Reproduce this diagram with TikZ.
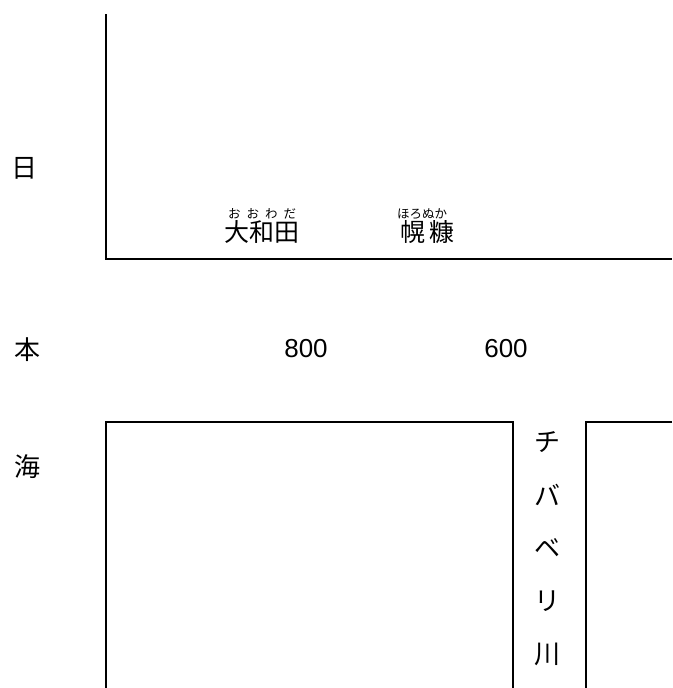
\documentclass[tikz,border=0pt]{standalone}
\usepackage{fontspec}
\setmainfont{Noto Sans CJK JP}
\newfontfamily\digitfont{Liberation Sans}
\usetikzlibrary{positioning}

\begin{document}
\begin{tikzpicture}[
      x=1pt, y=-1pt, % one unit per pixel, y running down
      border line/.style={line width=1.8pt, black},
      sea label/.style={font=\fontsize{26}{30}\selectfont, inner sep=0pt},
      place label/.style={font=\fontsize{25}{29}\selectfont, inner sep=0pt},
      ruby label/.style={font=\fontsize{12.5}{14}\selectfont, inner sep=0pt},
      height label/.style={font=\digitfont\fontsize{26}{30}\selectfont, inner sep=0pt}
    ]

    % Fix the page size
    \useasboundingbox (0,0) rectangle (672,688);

    % Draw the upper block
    \draw [border line] (106,14) -- (106,259) -- (672,259);

    % Draw the lower blocks on both sides of the river
    \draw [border line] (106,688) -- (106,422) -- (513,422) -- (513,688);
    \draw [border line] (672,422) -- (586,422) -- (586,688);

    % Sea name down the left side
    \node[sea label] (sea1) at (24,168) {日};
    \node[sea label] (sea2) at (27,350) {本};
    \node[sea label] (sea3) at (27,467) {海};

    % Place names with their readings
    \node[place label] (owada) at (262,232) {大和田};
    \node[ruby label, above=1pt of owada] (owada ruby) {お\hspace{6pt}お\hspace{6pt}わ\hspace{6pt}だ};
    \node[place label] (horonuka) at (427,232) {幌\hspace{4pt}糠};
    \node[ruby label, above=1pt of horonuka, xshift=-5pt] (horonuka ruby) {ほろぬか};

    % Heights
    \node[height label] (h800) at (306,349) {800};
    \node[height label] (h600) at (506,349) {600};

    % River name, one character per line
    \foreach \c [count=\i] in {チ,バ,ベ,リ,川} {
        \node[sea label] (river\i) at (547,{442+53*(\i-1)}) {\c};
      }

  \end{tikzpicture}
\end{document}
